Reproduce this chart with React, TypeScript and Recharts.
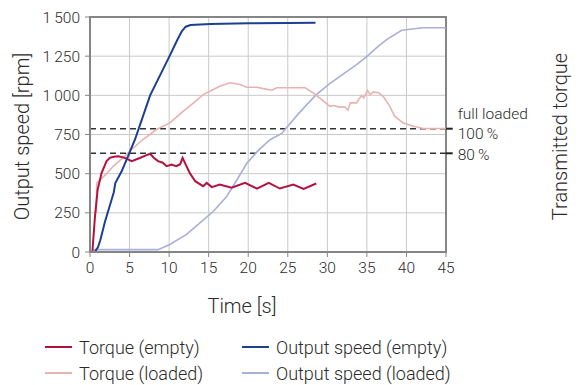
import {
    LineChart, Line, XAxis, YAxis, CartesianGrid, ReferenceLine, ReferenceArea, Legend,
} from "recharts";

const TIME_TICKS = [0, 5, 10, 15, 20, 25, 30, 35, 40, 45];
const SPEED_TICKS = [0, 250, 500, 750, 1000, 1250, 1500];

// torque (empty)
const torqueEmptyT = [0.3, 0.63, 0.97, 1.47, 2.1, 2.5, 3.0, 3.6, 4.4, 5.27, 6.3, 7.0, 7.6, 8.1, 8.6, 9.2, 9.7, 10.3, 10.9, 11.4, 11.7, 12.0, 12.6, 13.3, 14.3, 14.75, 15.4, 16.4, 17.9, 19.6, 21.1, 22.6, 24.0, 25.7, 27.0, 28.6];
const torqueEmptyV = [0, 228, 399, 505, 580, 601, 608, 611, 601, 580, 600, 615, 627, 600, 580, 570, 548, 558, 548, 560, 601, 569, 505, 452, 420, 441, 414, 431, 410, 441, 405, 441, 405, 431, 403, 437];

// output speed (empty)
const speedEmptyT = [0.6, 1.0, 1.3, 1.9, 2.5, 3.0, 3.2, 4.0, 4.8, 5.7, 6.7, 7.6, 10.1, 11.0, 11.6, 12.1, 12.7, 15.2, 20, 25, 28.5];
const speedEmptyV = [0, 30, 75, 195, 295, 380, 440, 515, 610, 720, 867, 1000, 1255, 1350, 1409, 1438, 1449, 1456, 1460, 1462, 1463];

// torque (loaded)
const torqueLoadedT = [0.8, 0.85, 2.0, 3.0, 4.4, 5.0, 6.7, 8.4, 10.1, 11.8, 13.1, 14.3, 15.6, 16.4, 17.7, 19.0, 19.8, 21.1, 21.9, 23.0, 23.6, 25.3, 26.1, 27.2, 28.2, 29.3, 30.3, 30.8, 31.5, 32.2, 32.6, 32.9, 33.7, 34.3, 34.6, 35.1, 35.4, 35.8, 36.5, 37.1, 37.9, 38.5, 39.6, 40.9, 42.1, 45];
const torqueLoadedV = [250, 440, 495, 550, 611, 643, 718, 782, 824, 899, 952, 1005, 1037, 1058, 1080, 1069, 1052, 1052, 1043, 1033, 1048, 1048, 1048, 1048, 1016, 973, 930, 935, 925, 927, 905, 952, 952, 999, 984, 1031, 1005, 1020, 1016, 990, 930, 867, 824, 803, 788, 788];

// output speed (loaded)
const speedLoadedT = [0.3, 8.6, 10.1, 12.2, 13.9, 15.6, 17.3, 18.6, 19.8, 21.3, 22.8, 24.2, 26.3, 28.5, 30.3, 32.4, 33.7, 35.05, 36.2, 37.5, 39.4, 42.1, 45];
const speedLoadedV = [15, 15, 48, 112, 186, 260, 356, 463, 565, 650, 718, 755, 880, 1000, 1075, 1150, 1196, 1250, 1303, 1356, 1415, 1431, 1431];

// transmitted torque levels
const FULL_LOAD = 787;
const LOAD_80 = 630;

const FONT = "Roboto, 'Liberation Sans', sans-serif";
const TEXT = "#2b2b2b";
const AXIS = "#858585";

const toPoints = (t: number[], v: number[]) => t.map((x, i) => ({ t: x, v: v[i] }));

const SERIES = [
    { name: "Output speed (loaded)", color: "#a9aedb", width: 1.6, data: toPoints(speedLoadedT, speedLoadedV) },
    { name: "Torque (loaded)", color: "#e8b3af", width: 1.6, data: toPoints(torqueLoadedT, torqueLoadedV) },
    { name: "Torque (empty)", color: "#b3123f", width: 2, data: toPoints(torqueEmptyT, torqueEmptyV) },
    { name: "Output speed (empty)", color: "#1d3f92", width: 2, data: toPoints(speedEmptyT, speedEmptyV) },
];
const LEGEND_ORDER = ["Torque (empty)", "Output speed (empty)", "Torque (loaded)", "Output speed (loaded)"];

const fmtSpeed = (v: number) => (v >= 1000 ? `${Math.floor(v / 1000)}\u2009${String(v % 1000).padStart(3, "0")}` : `${v}`);

const YTitle = ({ viewBox }: any) => {
    const x = viewBox.x + 29;
    const y = viewBox.y + viewBox.height / 2 + 2;
    return (
        <text x={x} y={y} transform={`rotate(-90 ${x} ${y})`} textAnchor="middle"
            fontSize={20} fontWeight={300} fill={TEXT} fontFamily={FONT}>
            Output speed [rpm]
        </text>
    );
};

const RightTitle = ({ viewBox }: any) => {
    const x = viewBox.x + 121;
    const y = viewBox.y + viewBox.height / 2 + 2;
    return (
        <text x={x} y={y} transform={`rotate(-90 ${x} ${y})`} textAnchor="middle"
            fontSize={20} fontWeight={300} fill={TEXT} fontFamily={FONT}>
            Transmitted torque
        </text>
    );
};

const XTitle = ({ viewBox }: any) => (
    <text x={viewBox.x + viewBox.width / 2 - 26} y={viewBox.y + 61} textAnchor="middle"
        fontSize={20} fontWeight={300} fill={TEXT} fontFamily={FONT}>
        Time [s]
    </text>
);

const LevelLabel = ({ viewBox, lines }: any) => (
    <g>
        {lines.map((l: any) => (
            <text key={l.text} x={viewBox.x + viewBox.width + 5} y={viewBox.y + l.dy}
                fontSize={15.5} fontWeight={300} fill={TEXT} fontFamily={FONT}>
                {l.text}
            </text>
        ))}
    </g>
);

const LegendBox = () => (
    <div style={{
        display: "grid", gridTemplateColumns: "197px 280px", rowGap: 4,
        fontFamily: FONT, fontWeight: 300, fontSize: 18, color: TEXT,
    }}>
        {LEGEND_ORDER.map((name) => {
            const s = SERIES.find((x) => x.name === name)!;
            return (
                <div key={name} style={{ display: "flex", alignItems: "center", height: 22, whiteSpace: "nowrap" }}>
                    <span style={{ display: "inline-block", width: 27, height: 2, background: s.color, marginRight: 7 }} />
                    {name}
                </div>
            );
        })}
    </div>
);

export default function App() {
    return (
        <div style={{ position: "absolute", left: 0, top: 0, width: 579, height: 385, background: "#fff" }}>
            <LineChart width={579} height={385} margin={{ top: 17, right: 0, left: 0, bottom: 93 }}>
                <CartesianGrid stroke="#c9c9c9" strokeWidth={1} />
                <XAxis dataKey="t" type="number" domain={[0, 45]} ticks={TIME_TICKS} height={40}
                    allowDuplicatedCategory={false}
                    tick={{ fontSize: 15.5, fill: TEXT, fontFamily: FONT, fontWeight: 300 }}
                    tickSize={5} tickMargin={5}
                    axisLine={{ stroke: AXIS, strokeWidth: 2 }} tickLine={{ stroke: AXIS }}
                    label={<XTitle />} />
                <YAxis dataKey="v" type="number" domain={[0, 1500]} ticks={SPEED_TICKS} width={90}
                    tickFormatter={fmtSpeed}
                    tick={{ fontSize: 15.5, fill: TEXT, fontFamily: FONT, fontWeight: 300 }}
                    tickSize={5} tickMargin={5}
                    axisLine={{ stroke: AXIS, strokeWidth: 2 }} tickLine={{ stroke: AXIS }}
                    label={<YTitle />} />
                <YAxis yAxisId="r" orientation="right" type="number" domain={[0, 100]} width={133}
                    tick={false} tickLine={false} axisLine={false} label={<RightTitle />} />
                <ReferenceArea x1={0} x2={45} y1={0} y2={1500} fill="none" stroke={AXIS} strokeWidth={2} />
                <ReferenceLine segment={[{ x: 0, y: FULL_LOAD }, { x: 45, y: FULL_LOAD }]}
                    stroke="#333" strokeWidth={1.5} strokeDasharray="6 4" />
                <ReferenceLine segment={[{ x: 0, y: LOAD_80 }, { x: 45, y: LOAD_80 }]}
                    stroke="#333" strokeWidth={1.5} strokeDasharray="6 4" />
                <ReferenceLine segment={[{ x: 45, y: FULL_LOAD }, { x: 45.85, y: FULL_LOAD }]} ifOverflow="visible"
                    stroke="#222" strokeWidth={2}
                    label={<LevelLabel lines={[{ text: "full loaded", dy: -10 }, { text: "100\u2009%", dy: 10 }]} />} />
                <ReferenceLine segment={[{ x: 45, y: LOAD_80 }, { x: 45.85, y: LOAD_80 }]} ifOverflow="visible"
                    stroke="#222" strokeWidth={2}
                    label={<LevelLabel lines={[{ text: "80\u2009%", dy: 6.5 }]} />} />
                {SERIES.map((s) => (
                    <Line key={s.name} data={s.data} dataKey="v" name={s.name} type="linear"
                        stroke={s.color} strokeWidth={s.width} dot={false} activeDot={false}
                        isAnimationActive={false} />
                ))}
                <Legend layout="horizontal" verticalAlign="middle" align="center" content={<LegendBox />}
                    wrapperStyle={{ position: "absolute", left: 45, top: 336, width: 520 }} />
            </LineChart>
        </div>
    );
}
